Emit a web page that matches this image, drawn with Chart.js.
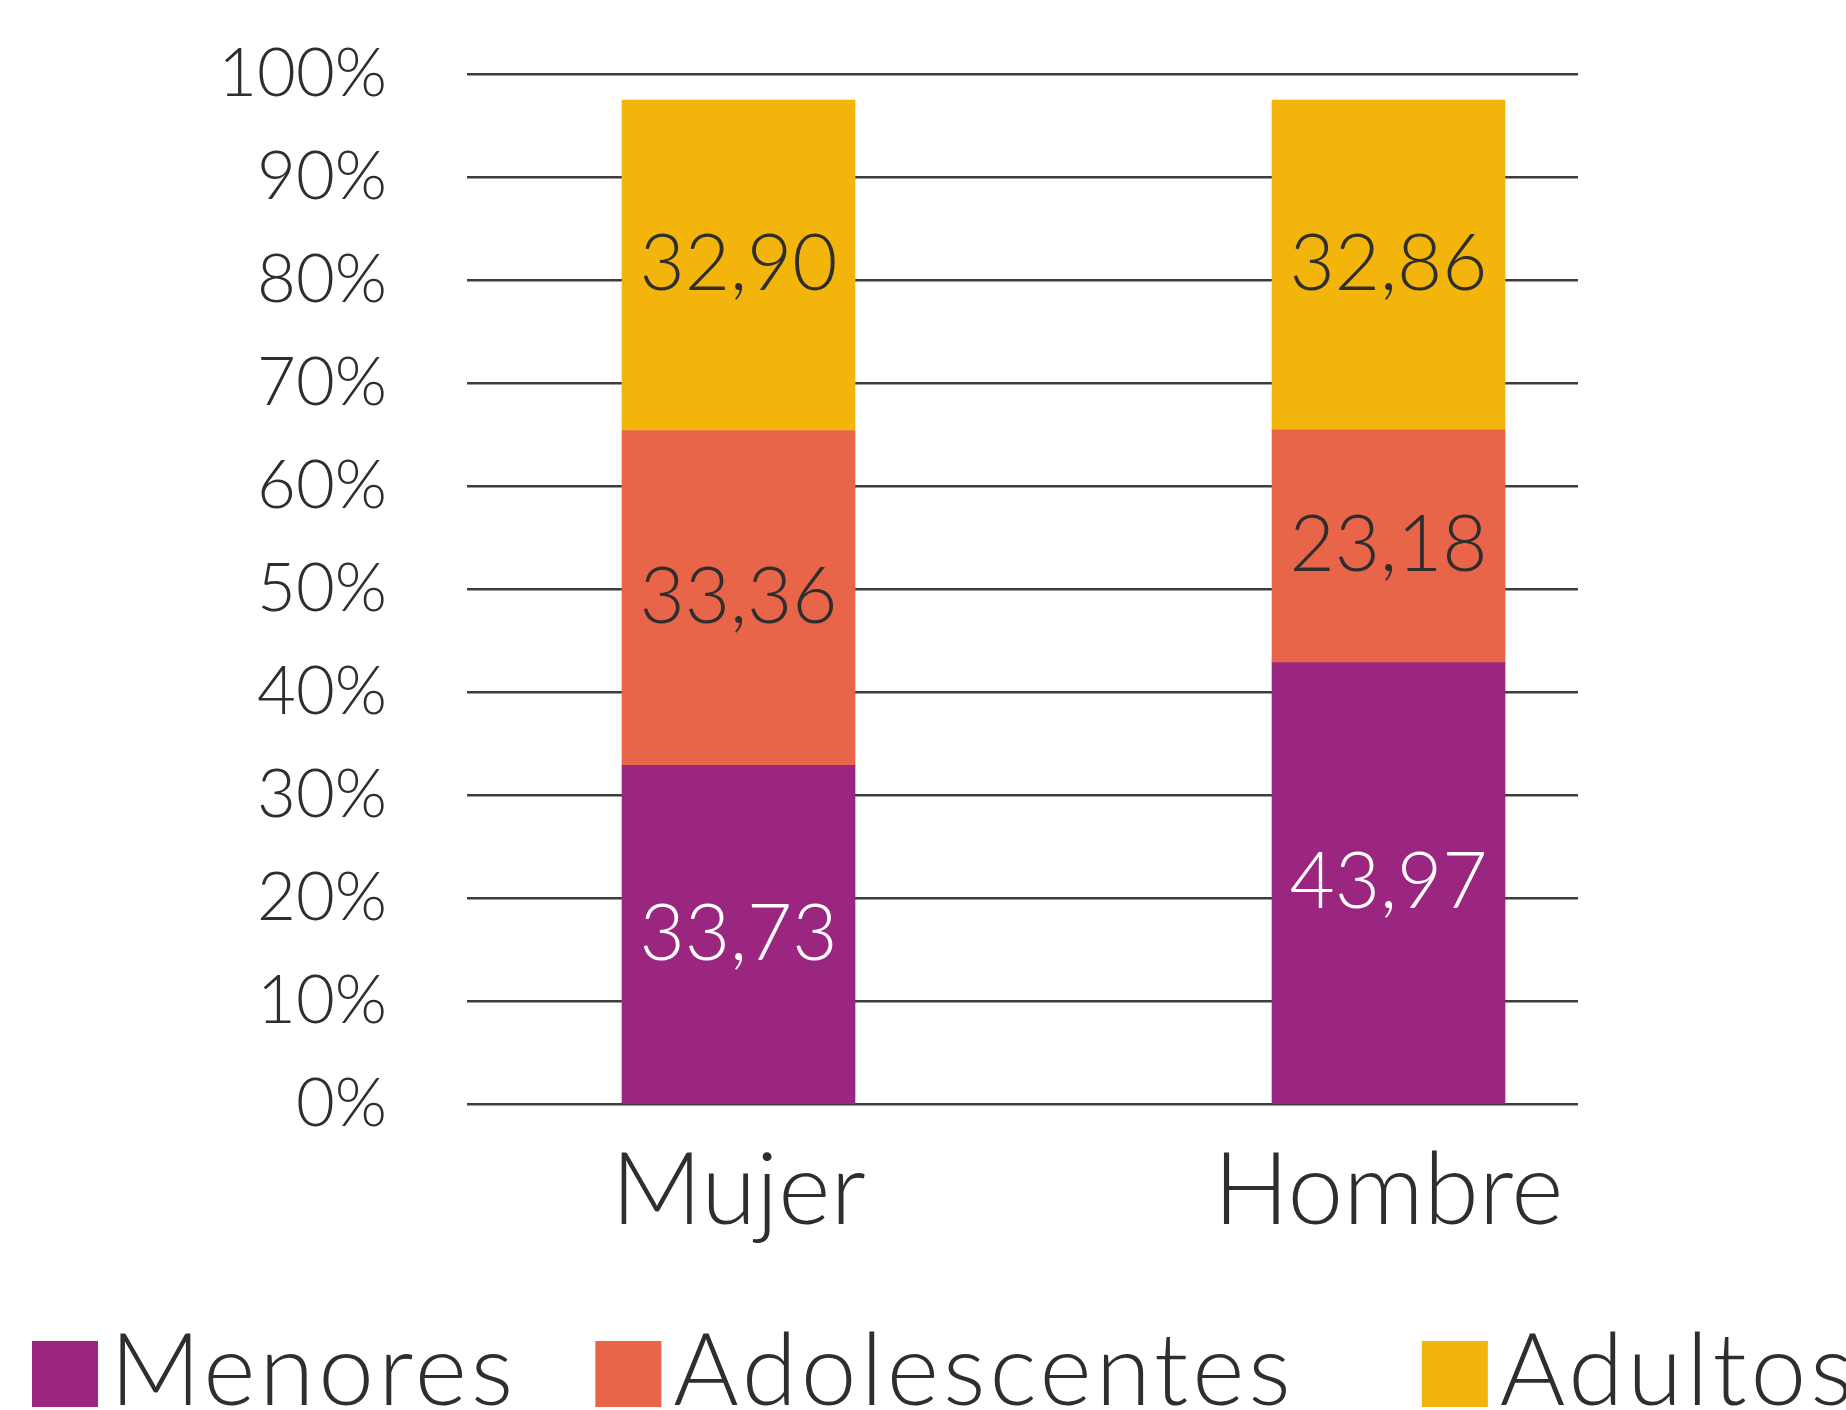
<!DOCTYPE html>
<html>
<head>
<meta charset="utf-8">
<script src="https://cdn.jsdelivr.net/npm/chart.js@4.4.0/dist/chart.umd.min.js"></script>
<style>
  html, body { margin: 0; padding: 0; background: #fff; overflow: hidden; }
  #wrap { width: 1846px; height: 1410px; position: relative; }
</style>
</head>
<body>
<div id="wrap"><canvas id="chart"></canvas></div>
<script>
// Data
const categories = ["Mujer", "Hombre"];
const seriesNames = ["Menores", "Adolescentes", "Adultos"];
const menores = [33.73, 43.97];
const adolescentes = [33.36, 23.18];
const adultos = [32.90, 32.86];
const yTicks = [0, 10, 20, 30, 40, 50, 60, 70, 80, 90, 100];

const seriesColors = ["#9a2680", "#e8654a", "#f3b50b"];
const labelColors = ["#ffffff", "#2e2e2e", "#2e2e2e"];
const textColor = "#2e2e2e";
const fontFamily = "Lato, 'Open Sans', sans-serif";
const fontWeight = "300";

const toPoints = (values) => values.map((v, i) => ({ x: i, y: v }));

// Value labels inside each segment
const barLabels = {
  id: "barLabels",
  afterDatasetsDraw(chart) {
    const ctx = chart.ctx;
    ctx.save();
    ctx.font = fontWeight + " 78px " + fontFamily;
    ctx.textAlign = "center";
    ctx.textBaseline = "middle";
    chart.data.datasets.forEach((ds, di) => {
      chart.getDatasetMeta(di).data.forEach((bar, i) => {
        const v = ds.data[i].y;
        ctx.fillStyle = labelColors[di];
        ctx.fillText(v.toFixed(2).replace(".", ","), bar.x, (bar.y + bar.base) / 2);
      });
    });
    ctx.restore();
  },
};

// Legend row along the bottom edge
const legendGaps = [78, 127];
const legendRow = {
  id: "legendRow",
  afterDraw(chart) {
    const ctx = chart.ctx;
    const box = 66;
    const top = chart.height - 69;
    ctx.save();
    ctx.font = fontWeight + " 100px " + fontFamily;
    ctx.letterSpacing = "4px";
    ctx.textBaseline = "alphabetic";
    ctx.textAlign = "left";
    let x = 32;
    chart.data.datasets.forEach((ds, i) => {
      ctx.fillStyle = ds.backgroundColor;
      ctx.fillRect(x, top, box, box);
      ctx.fillStyle = textColor;
      ctx.fillText(ds.label, x + box + 12, top + box - 2);
      x += box + 12 + ctx.measureText(ds.label).width + (legendGaps[i] || 0);
    });
    ctx.restore();
  },
};

const ctx = document.getElementById("chart");
new Chart(ctx, {
  type: "bar",
  data: {
    datasets: [
      { label: seriesNames[0], data: toPoints(menores), backgroundColor: seriesColors[0], yAxisID: "yBar" },
      { label: seriesNames[1], data: toPoints(adolescentes), backgroundColor: seriesColors[1], yAxisID: "yBar" },
      { label: seriesNames[2], data: toPoints(adultos), backgroundColor: seriesColors[2], yAxisID: "yBar" },
    ],
  },
  options: {
    responsive: true,
    maintainAspectRatio: false,
    animation: false,
    barThickness: 233,
    layout: {
      padding: { top: 74, right: 268, bottom: 0, left: 0 },
    },
    plugins: {
      legend: { display: false },
      tooltip: { enabled: false },
    },
    scales: {
      x: {
        type: "linear",
        stacked: true,
        offset: false,
        min: -0.4177,
        max: 1.2915,
        grid: { display: false, offset: false },
        border: { display: false },
        afterBuildTicks: (axis) => {
          axis.ticks = categories.map((c, i) => ({ value: i }));
        },
        afterFit: (axis) => {
          axis.height = 306;
        },
        ticks: {
          autoSkip: false,
          maxRotation: 0,
          padding: 20,
          color: textColor,
          font: { family: fontFamily, size: 100, weight: fontWeight },
          callback: (value) => categories[value],
        },
      },
      y: {
        min: 0,
        max: 100,
        afterBuildTicks: (axis) => {
          axis.ticks = yTicks.map((v) => ({ value: v }));
        },
        afterFit: (axis) => {
          axis.width = 467;
          axis.paddingTop = 0;
          axis.paddingBottom = 0;
        },
        grid: {
          color: "#3d3d3d",
          lineWidth: 2.5,
          drawTicks: false,
        },
        border: { display: false },
        ticks: {
          padding: 80,
          color: textColor,
          font: { family: fontFamily, size: 67, weight: fontWeight },
          callback: (value) => value + "%",
        },
      },
      yBar: {
        display: false,
        stacked: true,
        min: 0,
        max: 102.6,
      },
    },
  },
  plugins: [barLabels, legendRow],
});
</script>
</body>
</html>
